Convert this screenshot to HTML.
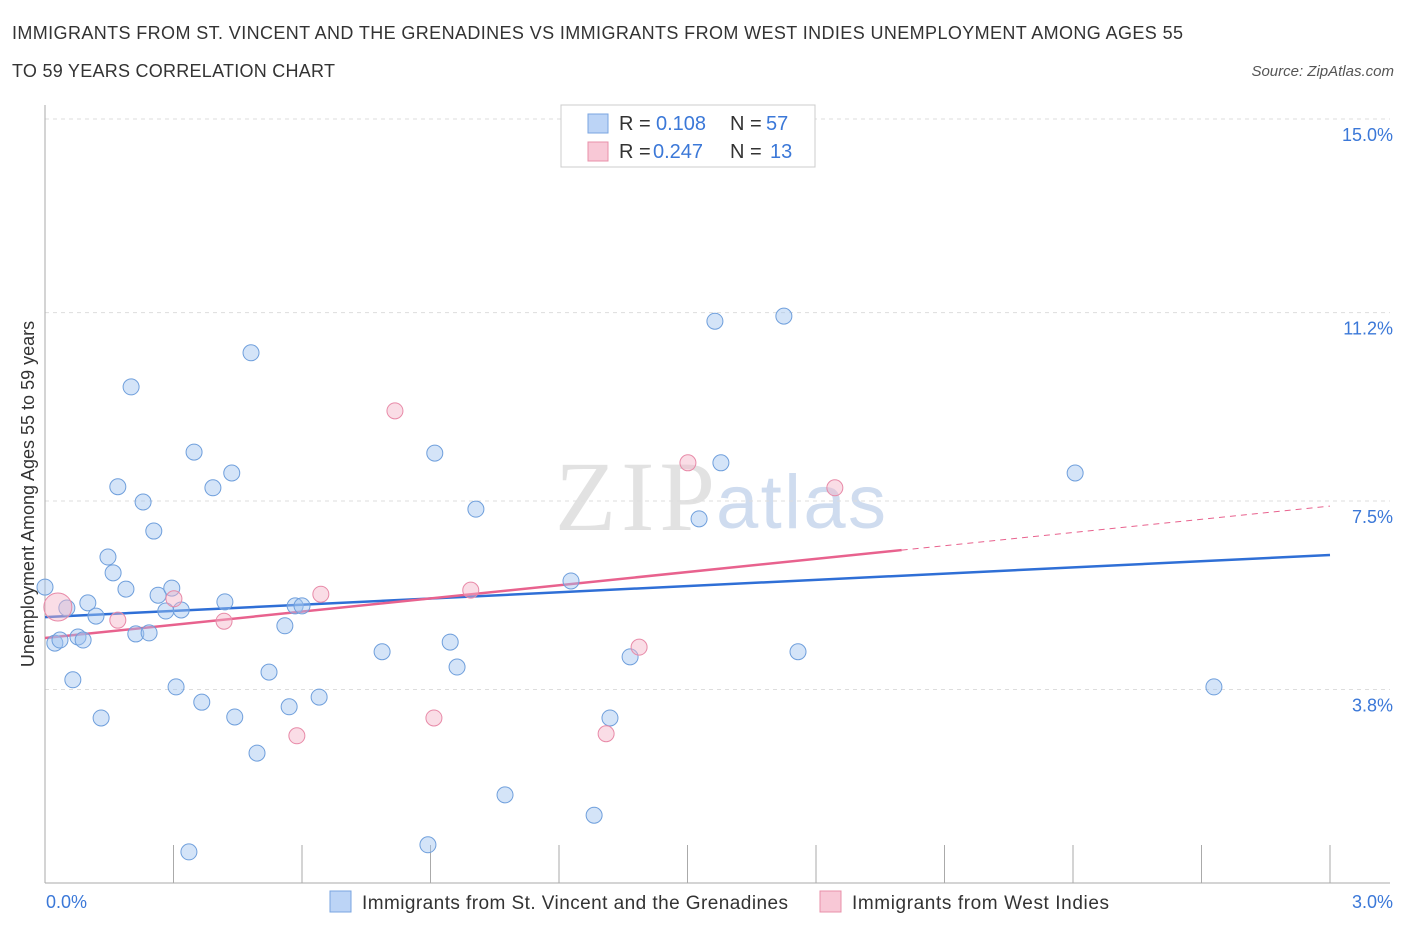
<!DOCTYPE html>
<html><head><meta charset="utf-8">
<style>
body{margin:0;background:#fff;font-family:"Liberation Sans",sans-serif;}
svg text{font-family:"Liberation Sans",sans-serif;}
</style></head>
<body>
<svg id="chart" width="1406" height="930" xmlns="http://www.w3.org/2000/svg">
<text x="12" y="39" font-size="18" fill="#333" textLength="1171">IMMIGRANTS FROM ST. VINCENT AND THE GRENADINES VS IMMIGRANTS FROM WEST INDIES UNEMPLOYMENT AMONG AGES 55</text>
<text x="12" y="77" font-size="18" fill="#333" textLength="323">TO 59 YEARS CORRELATION CHART</text>
<text x="1394" y="76" font-size="15" fill="#555" font-style="italic" text-anchor="end">Source: ZipAtlas.com</text>
<text x="555" y="530" font-size="100" fill="#e2e2e2" textLength="160" style="font-family:'Liberation Serif',serif">ZIP</text>
<text x="716" y="528" font-size="76" fill="#cfdcef" textLength="170">atlas</text>
<g id="grid"></g>
<g id="axes"></g>
<g id="lines"></g>
<g id="points"></g>
<text transform="translate(34,494) rotate(-90)" font-size="18" fill="#333" text-anchor="middle">Unemployment Among Ages 55 to 59 years</text>
<text x="46" y="908" font-size="18" fill="#3b78d8">0.0%</text>
<text x="1393" y="908" font-size="18" fill="#3b78d8" text-anchor="end">3.0%</text>
<g>
<rect x="561" y="105" width="254" height="62" fill="#fff" stroke="#ccc"/>
<rect x="588" y="114" width="20" height="19" fill="#bcd4f6" stroke="#7aa5e0"/>
<text x="619" y="130" font-size="20" fill="#333">R =</text>
<text x="656" y="130" font-size="20" fill="#3b78d8">0.108</text>
<text x="730" y="130" font-size="20" fill="#333">N =</text>
<text x="766" y="130" font-size="20" fill="#3b78d8">57</text>
<rect x="588" y="142" width="20" height="19" fill="#f8c8d6" stroke="#e890aa"/>
<text x="619" y="158" font-size="20" fill="#333">R =</text>
<text x="653" y="158" font-size="20" fill="#3b78d8">0.247</text>
<text x="730" y="158" font-size="20" fill="#333">N =</text>
<text x="770" y="158" font-size="20" fill="#3b78d8">13</text>
</g>
<g>
<rect x="330" y="891" width="21" height="21" fill="#bcd4f6" stroke="#7aa5e0"/>
<text x="362" y="909" font-size="19" fill="#333" textLength="426">Immigrants from St. Vincent and the Grenadines</text>
<rect x="820" y="891" width="21" height="21" fill="#f8c8d6" stroke="#e890aa"/>
<text x="852" y="909" font-size="19" fill="#333" textLength="257">Immigrants from West Indies</text>
</g>
</svg>
<script>
const yTicks=[3.8,7.5,11.2,15.0];
const yTickLabels=["3.8%","7.5%","11.2%","15.0%"];
const xTicks=[0,0.3,0.6,0.9,1.2,1.5,1.8,2.1,2.4,2.7,3.0];
const blueX=[0.000,0.023,0.035,0.051,0.065,0.077,0.089,0.100,0.119,0.131,0.147,0.159,0.170,0.189,0.201,0.212,0.229,0.243,0.254,0.264,0.282,0.296,0.306,0.318,0.336,0.348,0.366,0.392,0.420,0.436,0.443,0.481,0.495,0.523,0.560,0.570,0.584,0.600,0.640,0.787,0.894,0.910,0.946,0.962,1.006,1.074,1.228,1.282,1.319,1.366,1.527,1.564,1.578,1.725,1.758,2.405,2.729];
const blueY=[5.83,4.73,4.79,5.42,4.01,4.85,4.79,5.52,5.26,3.26,6.42,6.11,7.80,5.79,9.76,4.91,7.50,4.93,6.93,5.67,5.36,5.81,3.87,5.38,0.63,8.48,3.57,7.78,5.54,8.07,3.28,10.43,2.57,4.16,5.07,3.48,5.46,5.46,3.67,4.56,0.77,8.46,4.75,4.26,7.36,1.75,5.95,1.35,3.26,4.46,7.17,11.05,8.27,11.15,4.56,8.07,3.87];
const pinkX=[0.030,0.170,0.301,0.418,0.588,0.644,0.817,0.908,0.994,1.310,1.387,1.501,1.844];
const pinkY=[5.44,5.18,5.60,5.16,2.91,5.69,9.29,3.26,5.77,2.95,4.65,8.27,7.78];
const pinkR=[14,8,8,8,8,8,8,8,8,8,8,8,8];
const blueTrend=[5.24,6.46];
const pinkTrend=[4.83,7.42];
const pinkSolidEnd=2.0;

const X=v=>45+v/3*1285;
const Y=v=>884-v*50.93;
const NS="http://www.w3.org/2000/svg";
function mk(tag,attrs,parent){const e=document.createElementNS(NS,tag);for(const k in attrs)e.setAttribute(k,attrs[k]);document.getElementById(parent).appendChild(e);return e;}

yTicks.forEach((t,i)=>{
  const l=mk('line',{x1:45,x2:1390,y1:Y(t)-1,y2:Y(t)-1,stroke:'#ddd','stroke-dasharray':'4,4'},'grid');
  
  
  const tx=mk('text',{x:1393,y:Y(t)+21,'font-size':18,fill:'#3b78d8','text-anchor':'end'},'grid');
  tx.textContent=yTickLabels[i];
  
  
});
const ya=mk('line',{x1:45,x2:45,y1:105,y2:883,stroke:'#aaa'},'axes');


const xa=mk('line',{x1:45,x2:1390,y1:883,y2:883,stroke:'#aaa'},'axes');


xTicks.forEach(t=>{
  const l=mk('line',{x1:X(t),x2:X(t),y1:845,y2:883,stroke:'#aaa'},'axes');
  
  
});

blueX.forEach((x,i)=>{
  const c=mk('circle',{cx:X(x),cy:Y(blueY[i]),r:8,fill:'rgba(160,195,240,0.45)',stroke:'#6f9fdc','stroke-width':1},'points');
  
  
});
pinkX.forEach((x,i)=>{
  const c=mk('circle',{cx:X(x),cy:Y(pinkY[i]),r:pinkR[i],fill:'rgba(245,180,200,0.45)',stroke:'#e88aa8','stroke-width':1},'points');
  
  
});

const bl=mk('line',{x1:X(0),y1:Y(blueTrend[0]),x2:X(3),y2:Y(blueTrend[1]),stroke:'#2f6fd6','stroke-width':2.5},'lines');


const pm=pinkTrend[0]+(pinkTrend[1]-pinkTrend[0])*pinkSolidEnd/3;
const pl=mk('line',{x1:X(0),y1:Y(pinkTrend[0]),x2:X(pinkSolidEnd),y2:Y(pm),stroke:'#e8628e','stroke-width':2.5},'lines');


const pd=mk('line',{x1:X(pinkSolidEnd),y1:Y(pm),x2:X(3),y2:Y(pinkTrend[1]),stroke:'#e8628e','stroke-width':1,'stroke-dasharray':'6,5'},'lines');


</script>
</body></html>
